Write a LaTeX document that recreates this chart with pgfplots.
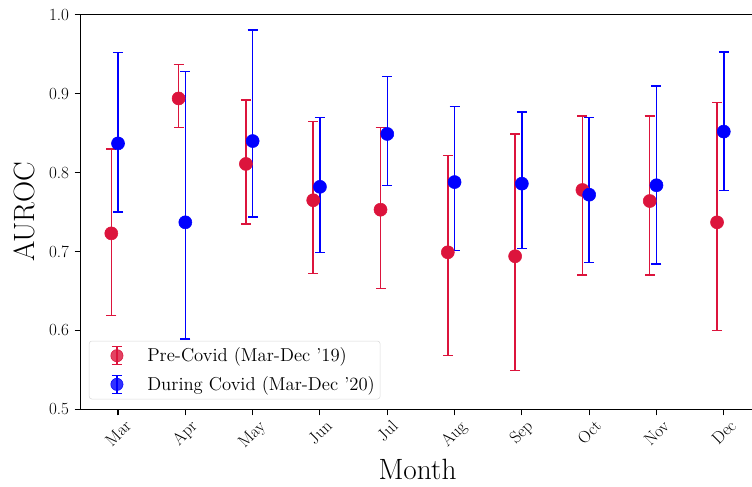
\documentclass[border=0pt]{standalone}
\usepackage{fontspec}
\usepackage{graphicx}
\usepackage{pgfplots}
\usepackage{pgfplotstable}
\pgfplotsset{compat=1.18}
\definecolor{crimson}{RGB}{220,20,60}
\definecolor{mblue}{RGB}{0,0,255}
\newcommand{\mo}[1]{\rotatebox{45}{\scalebox{0.8}{#1}}}
\newcommand{\yt}[1]{\scalebox{0.8}{#1}}

% x is the month index (Mar=0); pre-Covid points sit 0.1 to the left
\pgfplotstableread{
x    y     hi    lo
-0.1 0.723 0.830 0.619
0.9  0.894 0.937 0.857
1.9  0.811 0.892 0.735
2.9  0.765 0.865 0.672
3.9  0.753 0.857 0.653
4.9  0.699 0.822 0.568
5.9  0.694 0.849 0.549
6.9  0.778 0.872 0.670
7.9  0.764 0.872 0.670
8.9  0.737 0.889 0.600
}\pre

\pgfplotstableread{
x y     hi    lo
0 0.837 0.952 0.750
1 0.737 0.928 0.589
2 0.840 0.981 0.744
3 0.782 0.870 0.699
4 0.849 0.922 0.784
5 0.788 0.884 0.701
6 0.786 0.877 0.704
7 0.772 0.870 0.686
8 0.784 0.910 0.684
9 0.852 0.953 0.777
}\during

\begin{document}
\begin{tikzpicture}
\begin{axis}[
  name=ax,
  scale only axis,
  width=505.3pt, height=295.9pt,
  xmin=-0.555, xmax=9.455,
  ymin=0.5, ymax=1.0,
  axis line style={line width=0.8pt},
  xtick={0,...,9},
  xticklabels={\mo{Mar},\mo{Apr},\mo{May},\mo{Jun},\mo{Jul},\mo{Aug},\mo{Sep},\mo{Oct},\mo{Nov},\mo{Dec}},
  ytick={0.5,0.6,0.7,0.8,0.9,1.0},
  yticklabels={\yt{0.5},\yt{0.6},\yt{0.7},\yt{0.8},\yt{0.9},\yt{1.0}},
  xticklabel style={font=\fontsize{16}{19}\selectfont, anchor=north, inner sep=2.5pt},
  yticklabel style={font=\fontsize{16}{19}\selectfont, inner sep=4pt},
  tick align=outside,
  xtick pos=bottom, ytick pos=left,
  major tick length=4.5pt,
  tick style={line width=0.8pt, black},
  xlabel={Month}, ylabel={AUROC},
  label style={font=\fontsize{22}{26}\selectfont},
  ylabel shift=3pt,
  legend style={at={(0.0123,0.0254)}, anchor=south west, draw=black!15, rounded corners=2pt,
    fill=white, fill opacity=0.8, text opacity=1, font=\fontsize{14}{17}\selectfont,
    inner xsep=2pt, inner ysep=3pt, row sep=5.5pt},
  legend cell align=left,
]
\addplot[only marks, mark=*, mark size=4.9pt, color=crimson,
  legend image code/.code={
    \path[draw=none, fill=none] (0,-1pt) rectangle (1.39cm,1pt);
    \draw[crimson, line width=1.1pt] (0.66cm,-6.75pt) -- (0.66cm,6.75pt);
    \draw[crimson, line width=1.1pt] (0.66cm-3.75pt,-6.75pt) -- (0.66cm+3.75pt,-6.75pt);
    \draw[crimson, line width=1.1pt] (0.66cm-3.75pt,6.75pt) -- (0.66cm+3.75pt,6.75pt);
    \fill[crimson] (0.66cm,0) circle (4.6pt);
  },
  error bars/.cd, y dir=both, y explicit,
  error bar style={line width=1.1pt},
  error mark options={rotate=90, mark size=3.75pt, line width=1.1pt}]
  table[x=x, y=y, y error plus expr=\thisrow{hi}-\thisrow{y}, y error minus expr=\thisrow{y}-\thisrow{lo}] {\pre};
\addlegendentry{Pre-Covid (Mar-Dec '19)}
\addplot[only marks, mark=*, mark size=4.9pt, color=mblue,
  legend image code/.code={
    \path[draw=none, fill=none] (0,-1pt) rectangle (1.39cm,1pt);
    \draw[mblue, line width=1.1pt] (0.66cm,-6.75pt) -- (0.66cm,6.75pt);
    \draw[mblue, line width=1.1pt] (0.66cm-3.75pt,-6.75pt) -- (0.66cm+3.75pt,-6.75pt);
    \draw[mblue, line width=1.1pt] (0.66cm-3.75pt,6.75pt) -- (0.66cm+3.75pt,6.75pt);
    \fill[mblue] (0.66cm,0) circle (4.6pt);
  },
  error bars/.cd, y dir=both, y explicit,
  error bar style={line width=1.1pt},
  error mark options={rotate=90, mark size=3.75pt, line width=1.1pt}]
  table[x=x, y=y, y error plus expr=\thisrow{hi}-\thisrow{y}, y error minus expr=\thisrow{y}-\thisrow{lo}] {\during};
\addlegendentry{During Covid (Mar-Dec '20)}
\end{axis}
\pgfresetboundingbox
\path[use as bounding box] ([xshift=-60.5pt, yshift=-57.5pt]ax.south west) rectangle ([xshift=503.5pt, yshift=11.1pt]ax.north west);
\end{tikzpicture}
\end{document}
